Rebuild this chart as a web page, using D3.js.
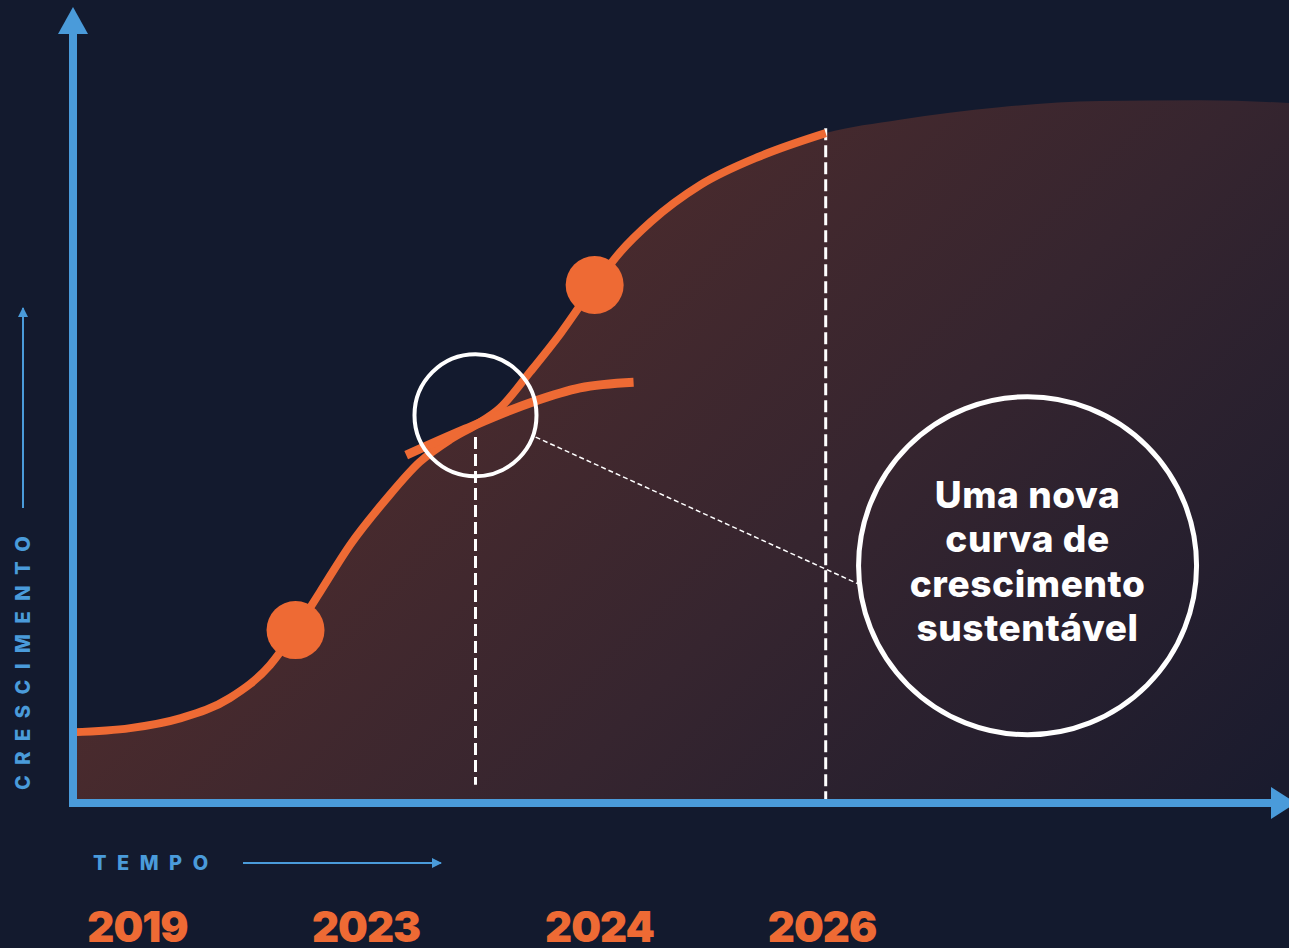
<!DOCTYPE html>
<html>
<head>
<meta charset="utf-8">
<script src="https://cdn.jsdelivr.net/npm/d3@7/dist/d3.min.js"></script>
<style>
  html, body { margin: 0; padding: 0; background: #131a2e; }
  svg { display: block; }
</style>
</head>
<body>
<svg id="chart" width="1289" height="948"></svg>
<script>
// Growth curve (time 0–100, growth 0–100)
const mainTime   = [0, 4.7, 8.8, 12.9, 16.2, 18.3, 20.3, 22.8, 25.7, 28.5, 31.0, 33.1, 35.1, 37.6, 40.1, 42.9, 45.0, 47.5, 51.6, 56.5, 61.9];
const mainGrowth = [10.1, 10.7, 12.1, 15.0, 19.7, 24.7, 30.1, 36.9, 43.3, 48.7, 51.9, 54.0, 56.4, 61.6, 67.1, 74.0, 78.7, 83.0, 88.3, 92.4, 95.7];

// Plateau that continues the shaded area after the curve ends
const plateauTime   = [61.9, 68.0, 76.2, 84.5, 92.7, 100];
const plateauGrowth = [95.7, 97.6, 99.4, 100.3, 100.4, 100.0];

// The new curve that branches off
const newTime   = [27.4, 32.1, 37.8, 41.7, 46.1];
const newGrowth = [49.7, 53.3, 57.3, 59.3, 60.1];

// Highlighted points on the main curve
const dotTime   = [18.3, 42.9];
const dotGrowth = [24.7, 74.0];

// Vertical milestone markers
const markerTime   = [33.1, 61.9];
const markerTop    = [52.3, 96.4];
const markerBottom = [2.6, 0.4];

// Year labels along the time axis
const yearLabels = ["2019", "2023", "2024", "2026"];
const yearTime   = [5.3, 24.1, 43.3, 61.6];

// Callout
const calloutLines = ["Uma nova", "curva de", "crescimento", "sustentável"];

const W = 1289, H = 948;
const svg = d3.select("#chart");

const x = d3.scaleLinear().domain([0, 100]).range([73, 1289]);
const y = d3.scaleLinear().domain([0, 100]).range([803, 103]);

const ORANGE = "#ee6a34";
const BLUE = "#4a9bda";

svg.append("rect").attr("width", W).attr("height", H).attr("fill", "#131a2e");

const defs = svg.append("defs");
const grad = defs.append("linearGradient")
  .attr("id", "areaGrad")
  .attr("gradientUnits", "userSpaceOnUse")
  .attr("x1", 380).attr("y1", 380).attr("x2", 1030).attr("y2", 1030);
grad.append("stop").attr("offset", 0).attr("stop-color", "#4b2b2d");
grad.append("stop").attr("offset", 0.45).attr("stop-color", "#36252f");
grad.append("stop").attr("offset", 1).attr("stop-color", "#1a1b2e");

defs.append("marker")
  .attr("id", "smallArrow")
  .attr("viewBox", "0 0 10 10")
  .attr("refX", 9).attr("refY", 5)
  .attr("markerWidth", 5).attr("markerHeight", 5)
  .attr("markerUnits", "strokeWidth")
  .attr("orient", "auto")
  .append("path").attr("d", "M0,0 L10,5 L0,10 Z").attr("fill", BLUE);

// Shaded area below the curve and its plateau
const mainPts = mainTime.map((t, i) => [t, mainGrowth[i]]);
const plateauPts = plateauTime.map((t, i) => [t, plateauGrowth[i]]);
const areaPts = mainPts.concat(plateauPts.slice(1));

const smooth = d3.curveMonotoneX;

svg.append("path")
  .datum(areaPts)
  .attr("d", d3.area()
    .x(d => x(d[0])).y0(y(0)).y1(d => y(d[1]))
    .curve(smooth))
  .attr("fill", "url(#areaGrad)");

// Milestone dashed markers
markerTime.forEach((t, i) => {
  svg.append("line")
    .attr("x1", x(t)).attr("x2", x(t))
    .attr("y1", y(markerTop[i])).attr("y2", y(markerBottom[i]))
    .attr("stroke", "#ffffff").attr("stroke-width", 3)
    .attr("stroke-dasharray", "12,5");
});

// Main curve
const line = d3.line().x(d => x(d[0])).y(d => y(d[1])).curve(smooth);
svg.append("path").datum(mainPts).attr("d", line)
  .attr("fill", "none").attr("stroke", ORANGE).attr("stroke-width", 8).attr("stroke-linecap", "butt");

// New curve
const newPts = newTime.map((t, i) => [t, newGrowth[i]]);
svg.append("path").datum(newPts).attr("d", line)
  .attr("fill", "none").attr("stroke", ORANGE).attr("stroke-width", 9).attr("stroke-linecap", "butt");

// Dots
svg.selectAll("circle.dot").data(dotTime).join("circle")
  .attr("class", "dot")
  .attr("cx", d => x(d)).attr("cy", (d, i) => y(dotGrowth[i]))
  .attr("r", 29).attr("fill", ORANGE);

// Highlight ring at the branching point and the callout
const ring = { t: 33.1, g: 55.4, r: 61 };
const callout = { t: 78.5, g: 33.9, r: 169 };

const ringCx = x(ring.t), ringCy = y(ring.g);
const callCx = x(callout.t), callCy = y(callout.g);

const a1 = 20 * Math.PI / 180;
const a2 = 186 * Math.PI / 180;
svg.append("line")
  .attr("x1", ringCx + Math.cos(a1) * (ring.r + 3))
  .attr("y1", ringCy + Math.sin(a1) * (ring.r + 3))
  .attr("x2", callCx + Math.cos(a2) * (callout.r + 2))
  .attr("y2", callCy - Math.sin(a2) * (callout.r + 2))
  .attr("stroke", "#ffffff").attr("stroke-width", 1.5)
  .attr("stroke-dasharray", "5,3");

svg.append("circle")
  .attr("cx", ringCx).attr("cy", ringCy).attr("r", ring.r)
  .attr("fill", "none").attr("stroke", "#ffffff").attr("stroke-width", 4);

svg.append("circle")
  .attr("cx", callCx).attr("cy", callCy).attr("r", callout.r)
  .attr("fill", "none").attr("stroke", "#ffffff").attr("stroke-width", 5);

const calloutText = svg.append("text")
  .attr("x", callCx).attr("text-anchor", "middle")
  .attr("font-family", "Inter, 'Noto Sans', sans-serif")
  .attr("font-weight", 800).attr("font-size", 37)
  .attr("letter-spacing", 0.6)
  .attr("fill", "#ffffff");
calloutLines.forEach((s, i) => {
  calloutText.append("tspan")
    .attr("x", callCx).attr("y", callCy - 58 + i * 44.5)
    .text(s);
});

// Axes with arrowheads
svg.append("line")
  .attr("x1", x(0)).attr("x2", x(0)).attr("y1", y(0) + 4).attr("y2", 30)
  .attr("stroke", BLUE).attr("stroke-width", 8);
svg.append("path")
  .attr("d", `M${x(0)},7 L${x(0) + 15},34 L${x(0) - 15},34 Z`)
  .attr("fill", BLUE);

svg.append("line")
  .attr("x1", x(0) - 4).attr("x2", 1272).attr("y1", y(0)).attr("y2", y(0))
  .attr("stroke", BLUE).attr("stroke-width", 8);
svg.append("path")
  .attr("d", `M1271,${y(0) - 16} L1296,${y(0)} L1271,${y(0) + 16} Z`)
  .attr("fill", BLUE);

// Axis titles
svg.append("text")
  .attr("x", 93).attr("y", 870)
  .attr("font-family", "Inter, 'Noto Sans', sans-serif")
  .attr("font-weight", 800).attr("font-size", 20)
  .attr("letter-spacing", 10.5)
  .attr("fill", BLUE)
  .text("TEMPO");
svg.append("line")
  .attr("x1", 243).attr("x2", 441).attr("y1", 863).attr("y2", 863)
  .attr("stroke", BLUE).attr("stroke-width", 2)
  .attr("marker-end", "url(#smallArrow)");

svg.append("text")
  .attr("transform", "translate(30,790) rotate(-90)")
  .attr("font-family", "Inter, 'Noto Sans', sans-serif")
  .attr("font-weight", 800).attr("font-size", 20)
  .attr("letter-spacing", 10.5)
  .attr("fill", BLUE)
  .text("CRESCIMENTO");
svg.append("line")
  .attr("x1", 23).attr("x2", 23).attr("y1", 508).attr("y2", 308)
  .attr("stroke", BLUE).attr("stroke-width", 2)
  .attr("marker-end", "url(#smallArrow)");

// Year labels
svg.selectAll("text.year").data(yearLabels).join("text")
  .attr("class", "year")
  .attr("x", (d, i) => x(yearTime[i]))
  .attr("y", 942)
  .attr("text-anchor", "middle")
  .attr("font-family", "Inter, 'Noto Sans', sans-serif")
  .attr("font-weight", 900).attr("font-size", 42)
  .attr("letter-spacing", -1)
  .attr("fill", ORANGE)
  .text(d => d);
</script>
</body>
</html>
